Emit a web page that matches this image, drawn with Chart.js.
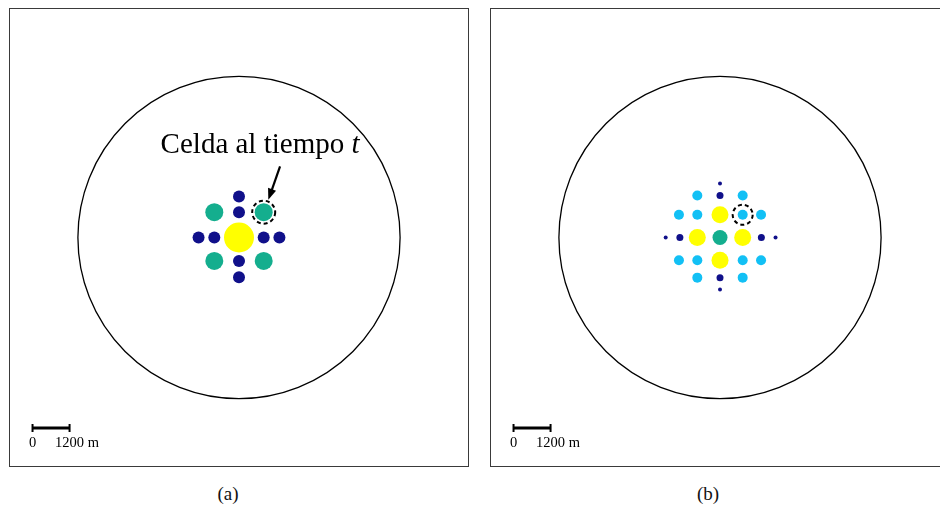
<!DOCTYPE html>
<html>
<head>
<meta charset="utf-8">
<script src="https://cdn.jsdelivr.net/npm/chart.js@4/dist/chart.umd.min.js"></script>
<style>
  body { margin: 0; width: 940px; height: 510px; overflow: hidden; background: #fff; position: relative; font-family: "Liberation Serif", serif; }
  .panel { position: absolute; top: 8px; width: 460px; height: 459px; border: 1px solid #3a3a3a; box-sizing: border-box; }
  .cap { position: absolute; top: 483px; width: 60px; font-size: 19px; text-align: center; color: #111; }
</style>
</head>
<body>
<div class="panel" style="left:9px"><canvas id="chartA"></canvas></div>
<div class="panel" style="left:490px"><canvas id="chartB"></canvas></div>
<div class="cap" style="left:198px">(a)</div>
<div class="cap" style="left:678px">(b)</div>
<script>
// coordinates in metres, origin at the centre of the domain
const domainRadius = 5220;

// panel (a): cell at time t and its neighbours
const aYellow = [[0, 0]];
const aTeal = [[-800, 820], [800, 820], [-800, -760], [800, -760]];
const aNavy = [[0, 1330], [0, 820], [0, -760], [0, -1290], [-1310, 0], [-800, 0], [800, 0], [1310, 0]];
const aHighlight = [800, 820];

// panel (b)
const bTeal = [[0, 0]];
const bYellow = [[0, 735], [0, -735], [-735, 0], [735, 0]];
const bLightBlue = [
  [-735, 1360], [735, 1360],
  [-1330, 735], [-735, 735], [735, 735], [1330, 735],
  [-1330, -735], [-735, -735], [735, -735], [1330, -735],
  [-735, -1300], [735, -1300],
];
const bNavy = [[0, 1360], [-1300, 0], [1340, 0], [0, -1300]];
const bNavySmall = [[0, 1750], [-1760, 0], [1800, 0], [0, -1680]];
const bHighlight = [735, 735];

// scale bar: 0 .. 1200 m
const scaleBarX = [-6690, -5490];
const scaleBarY = -6170;
const scaleLabels = ["0", "1200"];

// annotation
const noteText = "Celda al tiempo ";
const noteVar = "t";
const notePos = [-2540, 2740];
const arrowFrom = [1330, 2300];
const arrowTo = [950, 1220];

const NAVY = "#10108a";
const TEAL = "#14ae8e";
const YELLOW = "#ffff00";
const LIGHTBLUE = "#12c0f5";

function toPoints(list) {
  return list.map((p) => ({ x: p[0], y: p[1] }));
}

function dots(list, colour, radius) {
  return {
    data: toPoints(list),
    backgroundColor: colour,
    borderWidth: 0,
    pointRadius: radius,
    pointHoverRadius: radius,
  };
}

function scaleBarDataset() {
  return {
    type: "line",
    data: scaleBarX.map((x) => ({ x: x, y: scaleBarY })),
    borderColor: "#000",
    borderWidth: 3,
    pointStyle: "line",
    pointRotation: 90,
    pointRadius: 4,
    pointBorderWidth: 2,
    pointBorderColor: "#000",
  };
}

const decorPlugin = {
  id: "decor",
  afterDatasetsDraw(chart, args, opts) {
    const ctx = chart.ctx;
    const px = (v) => chart.scales.x.getPixelForValue(v);
    const py = (v) => chart.scales.y.getPixelForValue(v);
    ctx.save();

    // domain boundary
    const cx = px(0), cy = py(0);
    const r = px(domainRadius) - cx;
    ctx.beginPath();
    ctx.arc(cx, cy, r, 0, Math.PI * 2);
    ctx.lineWidth = 1.3;
    ctx.strokeStyle = "#000";
    ctx.stroke();

    // dashed ring around the current cell
    ctx.beginPath();
    ctx.setLineDash([4, 3]);
    ctx.lineWidth = 2;
    ctx.arc(px(opts.highlight[0]), py(opts.highlight[1]), opts.ringRadius, 0, Math.PI * 2);
    ctx.stroke();
    ctx.setLineDash([]);

    // scale bar labels
    ctx.fillStyle = "#000";
    ctx.font = "14.5px 'Liberation Serif'";
    ctx.textBaseline = "alphabetic";
    const ly = py(scaleBarY) + 19;
    ctx.textAlign = "center";
    ctx.fillText(scaleLabels[0], px(scaleBarX[0]), ly);
    const w1200 = ctx.measureText(scaleLabels[1]).width;
    ctx.textAlign = "left";
    ctx.fillText(scaleLabels[1] + " m", px(scaleBarX[1]) - w1200 / 2, ly);

    if (opts.note) {
      ctx.font = "29px 'Liberation Serif'";
      ctx.textAlign = "left";
      const tx = px(notePos[0]), ty = py(notePos[1]);
      ctx.fillText(noteText, tx, ty);
      const w = ctx.measureText(noteText).width;
      ctx.font = "italic 29px 'Liberation Serif'";
      ctx.fillText(noteVar, tx + w, ty);

      // arrow
      const x1 = px(arrowFrom[0]), y1 = py(arrowFrom[1]);
      const x2 = px(arrowTo[0]), y2 = py(arrowTo[1]);
      const ang = Math.atan2(y2 - y1, x2 - x1);
      const head = 12;
      ctx.beginPath();
      ctx.moveTo(x1, y1);
      ctx.lineTo(x2 - Math.cos(ang) * head * 0.8, y2 - Math.sin(ang) * head * 0.8);
      ctx.lineWidth = 2.2;
      ctx.stroke();
      ctx.beginPath();
      ctx.moveTo(x2, y2);
      ctx.lineTo(x2 - head * Math.cos(ang - 0.36), y2 - head * Math.sin(ang - 0.36));
      ctx.lineTo(x2 - head * Math.cos(ang + 0.36), y2 - head * Math.sin(ang + 0.36));
      ctx.closePath();
      ctx.fill();
    }
    ctx.restore();
  },
};

function makeConfig(datasets, decor) {
  return {
    type: "scatter",
    data: { datasets: datasets },
    options: {
      responsive: true,
      maintainAspectRatio: false,
      animation: false,
      events: [],
      layout: { padding: 0, autoPadding: false },
      plugins: {
        legend: { display: false },
        tooltip: { enabled: false },
        decor: decor,
      },
      scales: {
        x: { type: "linear", display: false, min: -7420, max: 7420 },
        y: { type: "linear", display: false, min: -7400, max: 7400 },
      },
    },
    plugins: [decorPlugin],
  };
}

new Chart(
  document.getElementById("chartA"),
  makeConfig(
    [
      dots(aYellow, YELLOW, 15),
      dots(aTeal, TEAL, 9),
      dots(aNavy, NAVY, 6),
      scaleBarDataset(),
    ],
    { highlight: aHighlight, ringRadius: 11.5, note: true }
  )
);

new Chart(
  document.getElementById("chartB"),
  makeConfig(
    [
      dots(bYellow, YELLOW, 8.5),
      dots(bTeal, TEAL, 7.5),
      dots(bLightBlue, LIGHTBLUE, 5),
      dots(bNavy, NAVY, 3.5),
      dots(bNavySmall, NAVY, 2),
      scaleBarDataset(),
    ],
    { highlight: bHighlight, ringRadius: 10, note: false }
  )
);
</script>
</body>
</html>
